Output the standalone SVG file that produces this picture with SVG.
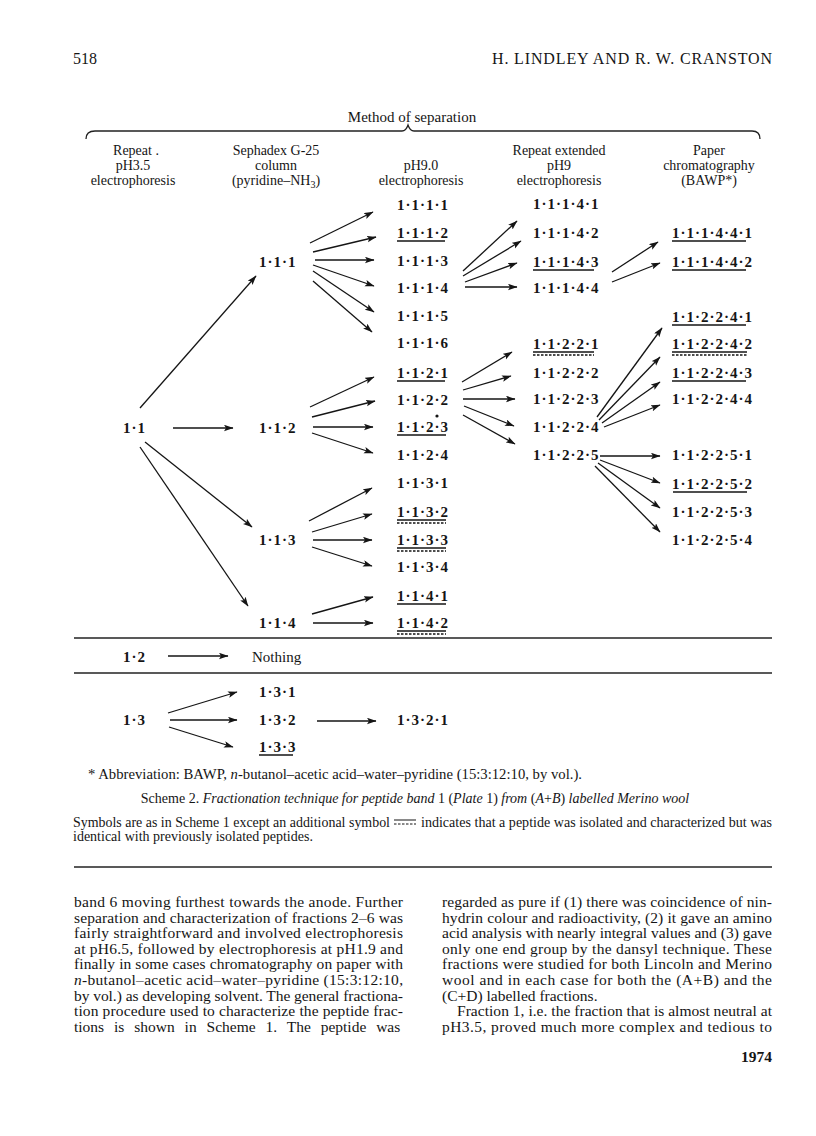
<svg xmlns="http://www.w3.org/2000/svg" width="816" height="1136" viewBox="0 0 816 1136">
<style>
text{font-family:"Liberation Serif","Times New Roman",serif;fill:#151515}
.n{font-size:15px;font-weight:bold;letter-spacing:1px}
.h{font-size:14px;text-anchor:middle}
.b{font-size:15.5px}
.f{font-size:14px}
.u{stroke:#151515;stroke-width:1.3}
.d{stroke:#151515;stroke-width:1.3;stroke-dasharray:2.5 1.5}
.rule{stroke:#222;stroke-width:1.4}
#connectors line{stroke:#151515;stroke-width:1.3;marker-end:url(#ah)}
</style>
<defs>
<marker id="ah" markerUnits="userSpaceOnUse" markerWidth="10" markerHeight="7" refX="9" refY="3.25" orient="auto">
<path d="M0,0 L9.5,3.25 L0,6.5 L2,3.25 z" fill="#151515"/>
</marker>
</defs>
<rect width="816" height="1136" fill="#fff"/>

<g id="page-header">
<text x="73" y="64" style="font-size:16px">518</text>
<text x="772" y="64" text-anchor="end" style="font-size:16px" textLength="280" lengthAdjust="spacing">H. LINDLEY AND R. W. CRANSTON</text>
</g>

<g id="method-header">
<text x="412" y="122" text-anchor="middle" style="font-size:15px">Method of separation</text>
<path d="M86,139 Q86,131 95,131 L402,131 Q406,131 408,125 Q410,131 414,131 L752,131 Q760,131 760,139" fill="none" stroke="#222" stroke-width="1.3"/>
<text class="h" x="136" y="155">Repeat .</text>
<text class="h" x="133" y="170">pH3.5</text>
<text class="h" x="133" y="185">electrophoresis</text>
<text class="h" x="276" y="155">Sephadex G-25</text>
<text class="h" x="276" y="170">column</text>
<text class="h" x="276" y="185">(pyridine–NH<tspan font-size="10" dy="3">3</tspan><tspan dy="-3">)</tspan></text>
<text class="h" x="421" y="170">pH9.0</text>
<text class="h" x="421" y="185">electrophoresis</text>
<text class="h" x="559" y="155">Repeat extended</text>
<text class="h" x="559" y="170">pH9</text>
<text class="h" x="559" y="185">electrophoresis</text>
<text class="h" x="709" y="155">Paper</text>
<text class="h" x="709" y="170">chromatography</text>
<text class="h" x="709" y="185">(BAWP*)</text>
</g>

<g id="section-rules">
<line class="rule" x1="74" y1="638" x2="772" y2="638"/>
<line class="rule" x1="74" y1="673" x2="772" y2="673"/>
</g>

<g id="connectors">
<line x1="140" y1="408" x2="256" y2="276"/>
<line x1="173" y1="428" x2="233" y2="428"/>
<line x1="145" y1="442" x2="252" y2="527"/>
<line x1="140" y1="447" x2="248" y2="606"/>

<line x1="310" y1="243" x2="373" y2="212"/>
<line x1="313" y1="252" x2="376" y2="237"/>
<line x1="315" y1="260" x2="374" y2="260"/>
<line x1="313" y1="265" x2="374" y2="286"/>
<line x1="313" y1="271" x2="374" y2="312"/>
<line x1="313" y1="281" x2="372" y2="332"/>

<line x1="463" y1="271" x2="517" y2="221"/>
<line x1="463" y1="276" x2="521" y2="241"/>
<line x1="465" y1="282" x2="517" y2="263"/>
<line x1="465" y1="287" x2="517" y2="287"/>

<line x1="612" y1="272" x2="658" y2="242"/>
<line x1="612" y1="282" x2="660" y2="263"/>

<line x1="310" y1="407" x2="374" y2="377"/>
<line x1="312" y1="417" x2="375" y2="401"/>
<line x1="313" y1="427" x2="373" y2="427"/>
<line x1="312" y1="433" x2="373" y2="453"/>

<line x1="462" y1="382" x2="512" y2="352"/>
<line x1="463" y1="390" x2="511" y2="376"/>
<line x1="463" y1="399" x2="515" y2="399"/>
<line x1="464" y1="406" x2="514" y2="426"/>
<line x1="463" y1="415" x2="515" y2="444"/>

<line x1="597" y1="417" x2="662" y2="328"/>
<line x1="599" y1="420" x2="660" y2="357"/>
<line x1="602" y1="423" x2="660" y2="382"/>
<line x1="604" y1="427" x2="660" y2="405"/>

<line x1="600" y1="456" x2="660" y2="456"/>
<line x1="600" y1="460" x2="660" y2="483"/>
<line x1="598" y1="463" x2="660" y2="508"/>
<line x1="595" y1="466" x2="660" y2="532"/>

<line x1="309" y1="521" x2="372" y2="488"/>
<line x1="312" y1="532" x2="372" y2="514"/>
<line x1="313" y1="540" x2="372" y2="540"/>
<line x1="312" y1="547" x2="372" y2="566"/>

<line x1="312" y1="614" x2="373" y2="597"/>
<line x1="313" y1="623" x2="373" y2="623"/>

<line x1="168" y1="656" x2="228" y2="656"/>

<line x1="168" y1="713" x2="237" y2="692"/>
<line x1="170" y1="720" x2="237" y2="720"/>
<line x1="169" y1="727" x2="233" y2="747"/>

<line x1="317" y1="721" x2="376" y2="721"/>
</g>

<g id="n-1-1"><text class="n" x="123" y="433">1·1</text></g>
<g id="n-1-2"><text class="n" x="123" y="662">1·2</text></g>
<g id="n-1-3"><text class="n" x="123" y="725">1·3</text></g>

<g id="n-1-1-1"><text class="n" x="259" y="267">1·1·1</text></g>
<g id="n-1-1-2"><text class="n" x="259" y="433">1·1·2</text></g>
<g id="n-1-1-3"><text class="n" x="259" y="545">1·1·3</text></g>
<g id="n-1-1-4"><text class="n" x="259" y="628">1·1·4</text></g>
<g id="n-nothing"><text x="252" y="662" style="font-size:15px">Nothing</text></g>
<g id="n-1-3-1"><text class="n" x="259" y="697">1·3·1</text></g>
<g id="n-1-3-2"><text class="n" x="259" y="725">1·3·2</text></g>
<g id="n-1-3-3"><text class="n" x="259" y="752">1·3·3</text><line class="u" x1="259" y1="755" x2="293" y2="755"/></g>

<g id="n-1-1-1-1"><text class="n" x="397" y="210">1·1·1·1</text></g>
<g id="n-1-1-1-2"><text class="n" x="397" y="238">1·1·1·2</text><line class="u" x1="397" y1="241" x2="445" y2="241"/></g>
<g id="n-1-1-1-3"><text class="n" x="397" y="266">1·1·1·3</text></g>
<g id="n-1-1-1-4"><text class="n" x="397" y="293">1·1·1·4</text></g>
<g id="n-1-1-1-5"><text class="n" x="397" y="321">1·1·1·5</text></g>
<g id="n-1-1-1-6"><text class="n" x="397" y="348">1·1·1·6</text></g>
<g id="n-1-1-2-1"><text class="n" x="397" y="378">1·1·2·1</text><line class="u" x1="397" y1="381" x2="445" y2="381"/></g>
<g id="n-1-1-2-2"><text class="n" x="397" y="405">1·1·2·2</text></g>
<g id="n-1-1-2-3"><text class="n" x="397" y="432">1·1·2·3</text><line class="u" x1="397" y1="435" x2="446" y2="435"/><circle cx="437" cy="416" r="1.6" fill="#151515"/></g>
<g id="n-1-1-2-4"><text class="n" x="397" y="460">1·1·2·4</text></g>
<g id="n-1-1-3-1"><text class="n" x="397" y="488">1·1·3·1</text></g>
<g id="n-1-1-3-2"><text class="n" x="397" y="517">1·1·3·2</text><line class="u" x1="397" y1="520" x2="446" y2="520"/><line class="d" x1="397" y1="523" x2="446" y2="523"/></g>
<g id="n-1-1-3-3"><text class="n" x="397" y="545">1·1·3·3</text><line class="u" x1="397" y1="548" x2="446" y2="548"/><line class="d" x1="397" y1="551" x2="446" y2="551"/></g>
<g id="n-1-1-3-4"><text class="n" x="397" y="572">1·1·3·4</text></g>
<g id="n-1-1-4-1"><text class="n" x="397" y="601">1·1·4·1</text><line class="u" x1="397" y1="604" x2="446" y2="604"/></g>
<g id="n-1-1-4-2"><text class="n" x="397" y="628">1·1·4·2</text><line class="u" x1="397" y1="631" x2="446" y2="631"/><line class="d" x1="397" y1="634" x2="446" y2="634"/></g>
<g id="n-1-3-2-1"><text class="n" x="397" y="725">1·3·2·1</text></g>

<g id="n-1-1-1-4-1"><text class="n" x="533" y="209">1·1·1·4·1</text></g>
<g id="n-1-1-1-4-2"><text class="n" x="533" y="238">1·1·1·4·2</text></g>
<g id="n-1-1-1-4-3"><text class="n" x="533" y="267">1·1·1·4·3</text><line class="u" x1="533" y1="270" x2="594" y2="270"/></g>
<g id="n-1-1-1-4-4"><text class="n" x="533" y="293">1·1·1·4·4</text></g>
<g id="n-1-1-2-2-1"><text class="n" x="533" y="349">1·1·2·2·1</text><line class="u" x1="533" y1="352" x2="594" y2="352"/><line class="d" x1="533" y1="355" x2="594" y2="355"/></g>
<g id="n-1-1-2-2-2"><text class="n" x="533" y="378">1·1·2·2·2</text></g>
<g id="n-1-1-2-2-3"><text class="n" x="533" y="404">1·1·2·2·3</text></g>
<g id="n-1-1-2-2-4"><text class="n" x="533" y="432">1·1·2·2·4</text></g>
<g id="n-1-1-2-2-5"><text class="n" x="533" y="460">1·1·2·2·5</text></g>

<g id="n-1-1-1-4-4-1"><text class="n" x="672" y="238">1·1·1·4·4·1</text><line class="u" x1="672" y1="241" x2="746" y2="241"/></g>
<g id="n-1-1-1-4-4-2"><text class="n" x="672" y="267">1·1·1·4·4·2</text><line class="u" x1="672" y1="270" x2="746" y2="270"/></g>
<g id="n-1-1-2-2-4-1"><text class="n" x="672" y="322">1·1·2·2·4·1</text><line class="u" x1="672" y1="325" x2="746" y2="325"/></g>
<g id="n-1-1-2-2-4-2"><text class="n" x="672" y="349">1·1·2·2·4·2</text><line class="u" x1="672" y1="352" x2="747" y2="352"/><line class="d" x1="672" y1="355" x2="747" y2="355"/></g>
<g id="n-1-1-2-2-4-3"><text class="n" x="672" y="378">1·1·2·2·4·3</text><line class="u" x1="672" y1="381" x2="746" y2="381"/></g>
<g id="n-1-1-2-2-4-4"><text class="n" x="672" y="404">1·1·2·2·4·4</text></g>
<g id="n-1-1-2-2-5-1"><text class="n" x="672" y="460">1·1·2·2·5·1</text></g>
<g id="n-1-1-2-2-5-2"><text class="n" x="672" y="489">1·1·2·2·5·2</text><line class="u" x1="673" y1="492" x2="747" y2="492"/></g>
<g id="n-1-1-2-2-5-3"><text class="n" x="672" y="517">1·1·2·2·5·3</text></g>
<g id="n-1-1-2-2-5-4"><text class="n" x="672" y="545">1·1·2·2·5·4</text></g>

<g id="footnotes">
<text class="f" x="88" y="779" textLength="494" lengthAdjust="spacingAndGlyphs">* Abbreviation: BAWP, <tspan font-style="italic">n</tspan>-butanol–acetic acid–water–pyridine (15:3:12:10, by vol.).</text>
<text class="f" x="415" y="803" text-anchor="middle">Scheme 2. <tspan font-style="italic">Fractionation technique for peptide band</tspan> 1 (<tspan font-style="italic">Plate</tspan> 1) <tspan font-style="italic">from</tspan> (<tspan font-style="italic">A</tspan>+<tspan font-style="italic">B</tspan>) <tspan font-style="italic">labelled Merino wool</tspan></text>
<text class="f" x="73" y="827" textLength="317" lengthAdjust="spacingAndGlyphs">Symbols are as in Scheme 1 except an additional symbol</text>
<line class="u" x1="394" y1="820" x2="416" y2="820" style="stroke-width:1"/>
<line class="d" x1="394" y1="824" x2="416" y2="824" style="stroke-width:1"/>
<text class="f" x="421" y="827" textLength="351" lengthAdjust="spacingAndGlyphs">indicates that a peptide was isolated and characterized but was</text>
<text class="f" x="73" y="841">identical with previously isolated peptides.</text>
<line class="rule" x1="74" y1="867" x2="772" y2="867"/>
</g>

<g id="body-text">
<text class="b" x="74" y="907" textLength="329" lengthAdjust="spacing">band 6 moving furthest towards the anode. Further</text>
<text class="b" x="74" y="922.6" textLength="329" lengthAdjust="spacing">separation and characterization of fractions 2–6 was</text>
<text class="b" x="74" y="938.2" textLength="329" lengthAdjust="spacing">fairly straightforward and involved electrophoresis</text>
<text class="b" x="74" y="953.8" textLength="329" lengthAdjust="spacing">at pH6.5, followed by electrophoresis at pH1.9 and</text>
<text class="b" x="74" y="969.4" textLength="329" lengthAdjust="spacing">finally in some cases chromatography on paper with</text>
<text class="b" x="74" y="985" textLength="329" lengthAdjust="spacing"><tspan font-style="italic">n</tspan>-butanol–acetic acid–water–pyridine (15:3:12:10,</text>
<text class="b" x="74" y="1000.6" textLength="329" lengthAdjust="spacing">by vol.) as developing solvent. The general fractiona-</text>
<text class="b" x="74" y="1016.2" textLength="329" lengthAdjust="spacing">tion procedure used to characterize the peptide frac-</text>
<text class="b" x="74" y="1031.8" word-spacing="6">tions is shown in Scheme 1. The peptide was</text>

<text class="b" x="442" y="907" textLength="330" lengthAdjust="spacing">regarded as pure if (1) there was coincidence of nin-</text>
<text class="b" x="442" y="922.6" textLength="330" lengthAdjust="spacing">hydrin colour and radioactivity, (2) it gave an amino</text>
<text class="b" x="442" y="938.2" textLength="330" lengthAdjust="spacing">acid analysis with nearly integral values and (3) gave</text>
<text class="b" x="442" y="953.8" textLength="330" lengthAdjust="spacing">only one end group by the dansyl technique. These</text>
<text class="b" x="442" y="969.4" textLength="330" lengthAdjust="spacing">fractions were studied for both Lincoln and Merino</text>
<text class="b" x="442" y="985" textLength="330" lengthAdjust="spacing">wool and in each case for both the (A+B) and the</text>
<text class="b" x="442" y="1000.6">(C+D) labelled fractions.</text>
<text class="b" x="457" y="1016.2" textLength="315" lengthAdjust="spacing">Fraction 1, i.e. the fraction that is almost neutral at</text>
<text class="b" x="442" y="1031.8" textLength="330" lengthAdjust="spacing">pH3.5, proved much more complex and tedious to</text>
<text class="b" x="772" y="1062" text-anchor="end" font-weight="bold">1974</text>
</g>
</svg>
